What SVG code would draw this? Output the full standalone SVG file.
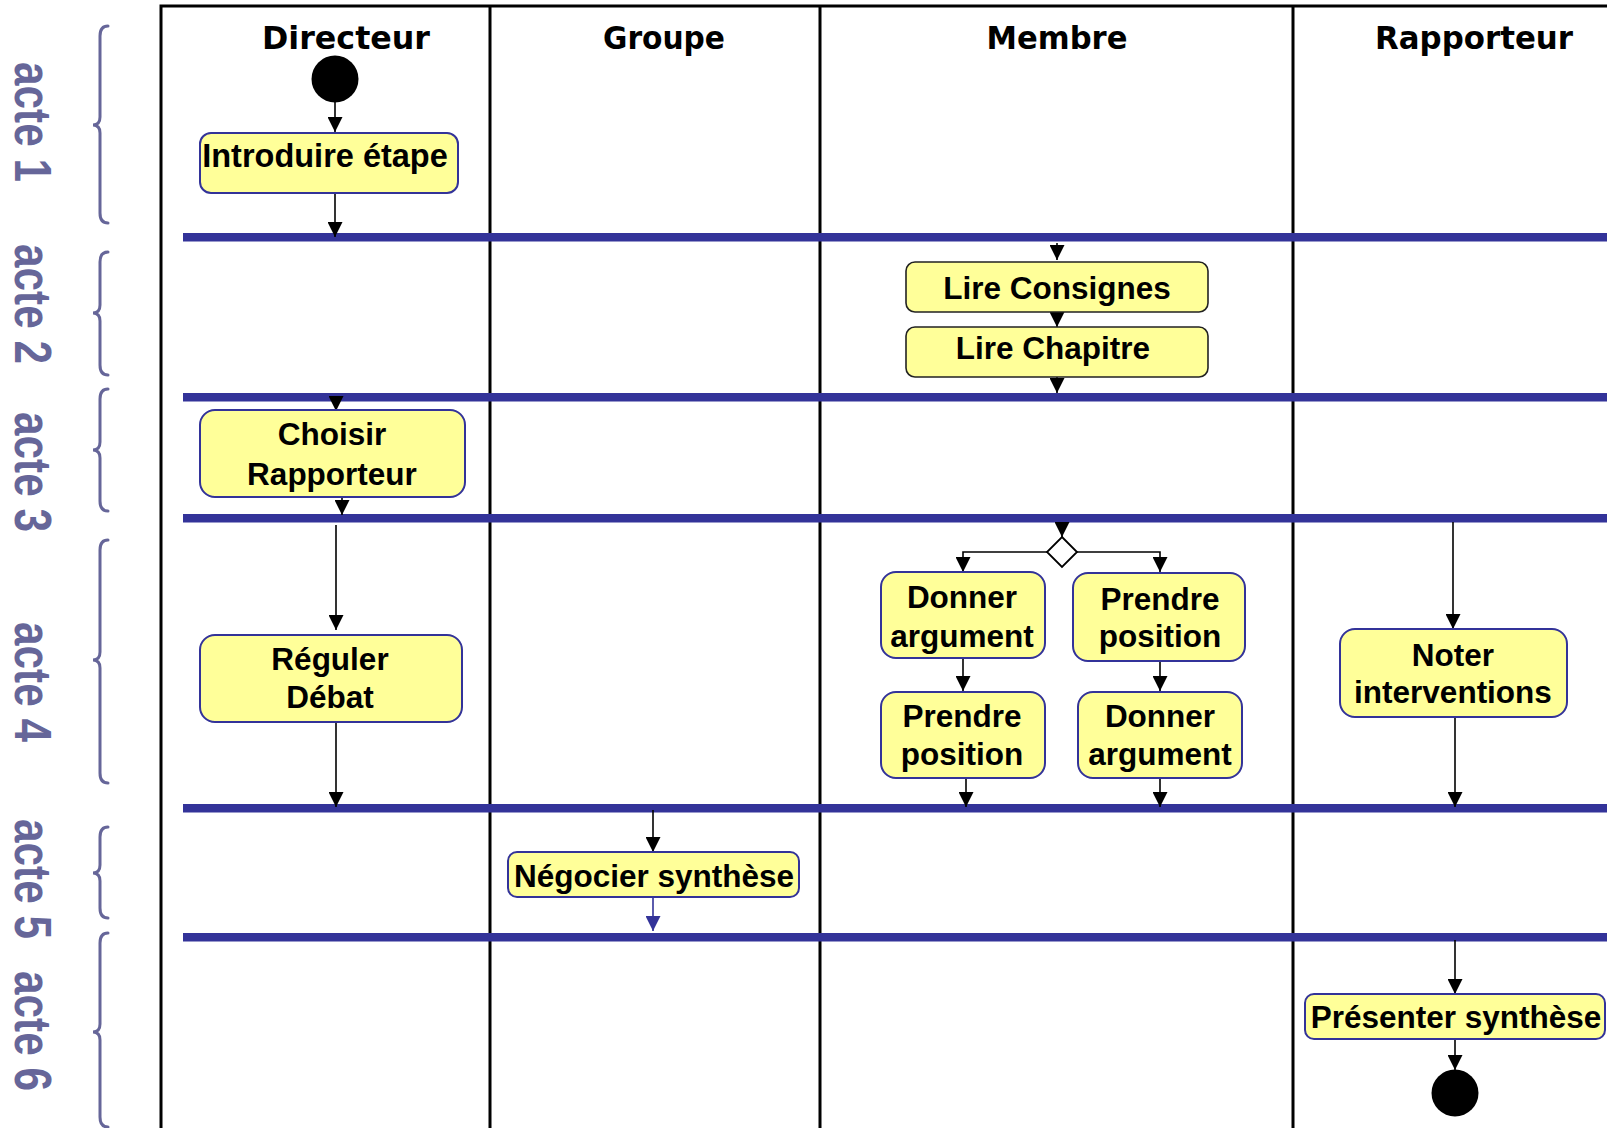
<svg xmlns="http://www.w3.org/2000/svg" width="1607" height="1128" viewBox="0 0 1607 1128">
<style>
.frame{stroke:#000;stroke-width:3;fill:none}
.bar{fill:#333399}
.brace{fill:none;stroke:#666699;stroke-width:3;stroke-linecap:round}
.acte{font-family:"Liberation Sans",Arial,sans-serif;font-weight:bold;font-size:52px;fill:#666699}
.hdr{font-family:"DejaVu Sans",sans-serif;font-weight:bold;font-size:32px;fill:#000;text-anchor:middle}
.box{fill:#ffff99;stroke:#333399;stroke-width:2}
.box2{fill:#ffff99;stroke:#222;stroke-width:1.6}
.lbl{font-family:"Liberation Sans",Arial,sans-serif;font-weight:bold;font-size:31.5px;fill:#000;text-anchor:middle}
.cn{fill:none;stroke:#000;stroke-width:1.6}
.cnb{fill:none;stroke:#333399;stroke-width:1.6}
</style>
<defs>
<marker id="ah" markerWidth="15" markerHeight="15" refX="15" refY="7.5" orient="auto" markerUnits="userSpaceOnUse"><path d="M0,0 L15,7.5 L0,15 z" fill="#000"/></marker>
<marker id="ahb" markerWidth="15" markerHeight="15" refX="15" refY="7.5" orient="auto" markerUnits="userSpaceOnUse"><path d="M0,0 L15,7.5 L0,15 z" fill="#333399"/></marker>
</defs>
<rect width="1607" height="1128" fill="#fff"/>

<g id="acts">
<path class="brace" d="M108,26 Q100,26 100,36 L100,117 Q100,125 93,125 Q100,125 100,133 L100,213 Q100,223 108,223"/>
<path class="brace" d="M108,252 Q100,252 100,262 L100,305 Q100,313 93,313 Q100,313 100,321 L100,365 Q100,375 108,375"/>
<path class="brace" d="M108,389 Q100,389 100,399 L100,442 Q100,450 93,450 Q100,450 100,458 L100,501 Q100,511 108,511"/>
<path class="brace" d="M108,540 Q100,540 100,550 L100,652 Q100,660 93,660 Q100,660 100,668 L100,773 Q100,783 108,783"/>
<path class="brace" d="M108,827 Q100,827 100,837 L100,865 Q100,873 93,873 Q100,873 100,881 L100,908 Q100,918 108,918"/>
<path class="brace" d="M108,933 Q100,933 100,943 L100,1024 Q100,1032 93,1032 Q100,1032 100,1040 L100,1117 Q100,1127 108,1127"/>
<text class="acte" transform="translate(15,122) rotate(90)" text-anchor="middle" textLength="120" lengthAdjust="spacingAndGlyphs">acte 1</text>
<text class="acte" transform="translate(15,304) rotate(90)" text-anchor="middle" textLength="120" lengthAdjust="spacingAndGlyphs">acte 2</text>
<text class="acte" transform="translate(15,472) rotate(90)" text-anchor="middle" textLength="120" lengthAdjust="spacingAndGlyphs">acte 3</text>
<text class="acte" transform="translate(15,682) rotate(90)" text-anchor="middle" textLength="120" lengthAdjust="spacingAndGlyphs">acte 4</text>
<text class="acte" transform="translate(15,879) rotate(90)" text-anchor="middle" textLength="120" lengthAdjust="spacingAndGlyphs">acte 5</text>
<text class="acte" transform="translate(15,1031) rotate(90)" text-anchor="middle" textLength="120" lengthAdjust="spacingAndGlyphs">acte 6</text>
</g>

<g id="swimlanes">
<path class="frame" d="M161,1128 V6 H1607 M490,6 V1128 M820,6 V1128 M1293,6 V1128"/>
<text class="hdr" x="346" y="49" textLength="168" lengthAdjust="spacingAndGlyphs">Directeur</text>
<text class="hdr" x="664" y="49" textLength="122" lengthAdjust="spacingAndGlyphs">Groupe</text>
<text class="hdr" x="1057" y="49" textLength="141" lengthAdjust="spacingAndGlyphs">Membre</text>
<text class="hdr" x="1474" y="49" textLength="198" lengthAdjust="spacingAndGlyphs">Rapporteur</text>
</g>

<g id="bars">
<rect id="bar1" class="bar" x="183" y="233" width="1424" height="8.5"/>
<rect id="bar2" class="bar" x="183" y="393" width="1424" height="8.5"/>
<rect id="bar3" class="bar" x="183" y="514" width="1424" height="8.5"/>
<rect id="bar4" class="bar" x="183" y="804" width="1424" height="8.5"/>
<rect id="bar5" class="bar" x="183" y="933" width="1424" height="8.5"/>
</g>

<g id="connectors">
<line class="cn" x1="335" y1="102" x2="335" y2="132" marker-end="url(#ah)"/>
<line class="cn" x1="335" y1="193" x2="335" y2="237" marker-end="url(#ah)"/>
<line class="cn" x1="1057" y1="243" x2="1057" y2="260" marker-end="url(#ah)"/>
<line class="cn" x1="1057" y1="312" x2="1057" y2="327" marker-end="url(#ah)"/>
<line class="cn" x1="1057" y1="377" x2="1057" y2="393" marker-end="url(#ah)"/>
<line class="cn" x1="336" y1="398" x2="336" y2="411" marker-end="url(#ah)"/>
<line class="cn" x1="342" y1="497" x2="342" y2="515" marker-end="url(#ah)"/>
<line class="cn" x1="336" y1="525" x2="336" y2="630" marker-end="url(#ah)"/>
<line class="cn" x1="336" y1="722" x2="336" y2="807" marker-end="url(#ah)"/>
<line class="cn" x1="1062" y1="522" x2="1062" y2="537" marker-end="url(#ah)"/>
<path class="cn" d="M1047,552 H963 V572" marker-end="url(#ah)"/>
<path class="cn" d="M1077,552 H1160 V572" marker-end="url(#ah)"/>
<line class="cn" x1="963" y1="658" x2="963" y2="691" marker-end="url(#ah)"/>
<line class="cn" x1="1160" y1="661" x2="1160" y2="691" marker-end="url(#ah)"/>
<line class="cn" x1="966" y1="778" x2="966" y2="807" marker-end="url(#ah)"/>
<line class="cn" x1="1160" y1="778" x2="1160" y2="807" marker-end="url(#ah)"/>
<line class="cn" x1="1453" y1="522" x2="1453" y2="629" marker-end="url(#ah)"/>
<line class="cn" x1="1455" y1="717" x2="1455" y2="807" marker-end="url(#ah)"/>
<line class="cn" x1="653" y1="810" x2="653" y2="852" marker-end="url(#ah)"/>
<line class="cnb" x1="653" y1="898" x2="653" y2="931" marker-end="url(#ahb)"/>
<line class="cn" x1="1455" y1="940" x2="1455" y2="994" marker-end="url(#ah)"/>
<line class="cn" x1="1455" y1="1039" x2="1455" y2="1070" marker-end="url(#ah)"/>
</g>

<g id="start"><circle cx="335" cy="79" r="23.5" fill="#000"/></g>
<g id="introduire"><rect class="box" x="200" y="133" width="258" height="60" rx="11"/><text class="lbl" x="325" y="167" style="font-size:32.5px">Introduire étape</text></g>
<g id="lireConsignes"><rect class="box2" x="906" y="262" width="302" height="50" rx="9"/><text class="lbl" x="1057" y="299">Lire Consignes</text></g>
<g id="lireChapitre"><rect class="box2" x="906" y="327" width="302" height="50" rx="9"/><text class="lbl" x="1053" y="359">Lire Chapitre</text></g>
<g id="choisir"><rect class="box" x="200" y="410" width="265" height="87" rx="15"/><text class="lbl" x="332" y="445">Choisir</text><text class="lbl" x="332" y="485">Rapporteur</text></g>
<g id="reguler"><rect class="box" x="200" y="635" width="262" height="87" rx="15"/><text class="lbl" x="330" y="670">Réguler</text><text class="lbl" x="330" y="708">Débat</text></g>
<g id="decision"><path d="M1062,537 L1077,552 L1062,567 L1047,552 z" fill="#fff" stroke="#000" stroke-width="1.8"/></g>
<g id="donnerArg1"><rect class="box" x="881" y="572" width="164" height="86" rx="15"/><text class="lbl" x="962" y="608">Donner</text><text class="lbl" x="962" y="647">argument</text></g>
<g id="prendrePos1"><rect class="box" x="1073" y="573" width="172" height="88" rx="15"/><text class="lbl" x="1160" y="610">Prendre</text><text class="lbl" x="1160" y="647">position</text></g>
<g id="prendrePos2"><rect class="box" x="881" y="692" width="164" height="86" rx="15"/><text class="lbl" x="962" y="727">Prendre</text><text class="lbl" x="962" y="765">position</text></g>
<g id="donnerArg2"><rect class="box" x="1078" y="692" width="164" height="86" rx="15"/><text class="lbl" x="1160" y="727">Donner</text><text class="lbl" x="1160" y="765">argument</text></g>
<g id="noter"><rect class="box" x="1340" y="629" width="227" height="88" rx="15"/><text class="lbl" x="1453" y="666">Noter</text><text class="lbl" x="1453" y="703">interventions</text></g>
<g id="negocier"><rect class="box" x="508" y="852" width="291" height="45" rx="9"/><text class="lbl" x="654" y="887">Négocier synthèse</text></g>
<g id="presenter"><rect class="box" x="1305" y="994" width="300" height="45" rx="9"/><text class="lbl" x="1456" y="1028">Présenter synthèse</text></g>
<g id="end"><circle cx="1455" cy="1093" r="23.5" fill="#000"/></g>
</svg>
